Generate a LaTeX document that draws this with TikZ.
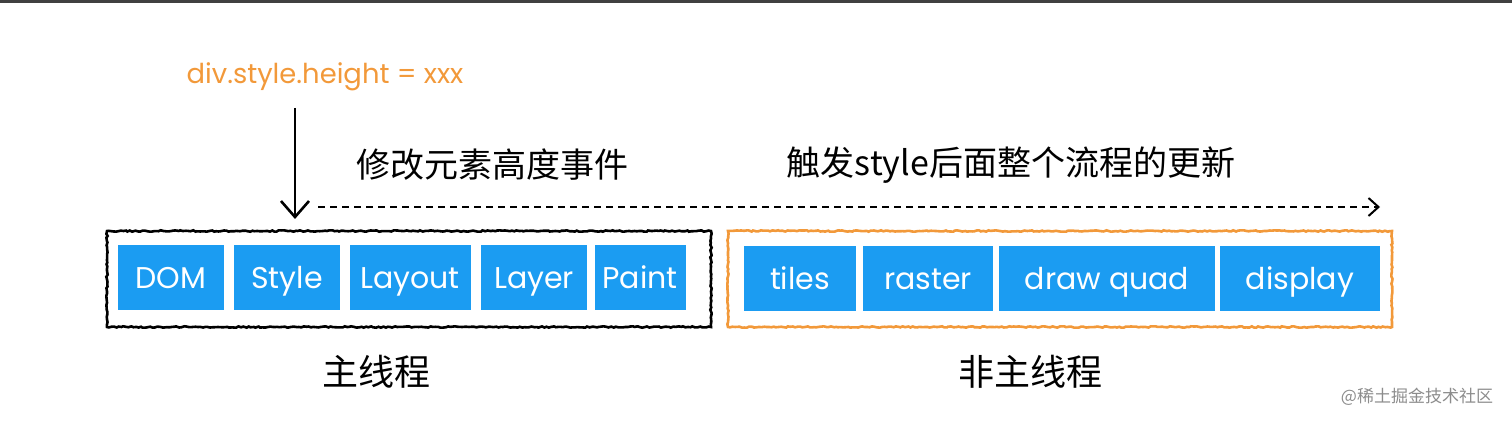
\documentclass[tikz,border=0pt]{standalone}
\usepackage{fontspec}
\setmainfont{Poppins}
\newfontfamily\cjk{Noto Sans CJK SC}
\usepackage{xcolor}
\usepackage{tikz}
\usetikzlibrary{arrows.meta, decorations.pathmorphing}

\definecolor{stageblue}{HTML}{1B9CF2}
\definecolor{codeorange}{HTML}{F2993A}

\tikzset{
    stage/.style={fill=stageblue, text=white, minimum height=65*0.5pt, inner sep=0pt, text height=10.5pt, text depth=0pt, font=\fontsize{15}{18}\selectfont},
    threadbox/.style={draw, line width=1.3pt, minimum height=96*0.5pt, decorate, decoration={random steps, segment length=1.2pt, amplitude=0.35pt}},
    cjklbl/.style={font=\cjk\fontsize{17}{20}\selectfont},
}

\begin{document}
\begin{tikzpicture}[x=0.5pt, y=-0.5pt]
    \useasboundingbox (0,0) rectangle (1512,422);
    \fill[black!75] (0,0) rectangle (1512,3);

    % thread frames
    \node[threadbox, minimum width=604*0.5pt] (main) at (409,279) {};
    \node[threadbox, draw=codeorange, minimum width=664*0.5pt] (other) at (1060,279) {};

    \foreach \n/\x/\w/\t in {dom/171/106/DOM, style/287/106/Style, layout/410/121/Layout, layer/534/106/Layer, paint/640/91/Paint} {
        \node[stage, minimum width=\w*0.5pt] (\n) at (\x,278) {\t};
    }
    \foreach \n/\x/\w/\t in {tiles/800/112/tiles, raster/928/130/raster, quad/1107/216/draw quad, disp/1300/160/display} {
        \node[stage, minimum width=\w*0.5pt] (\n) at (\x,279) {\t};
    }

    \node[text=codeorange, font=\fontsize{13.7}{16}\selectfont] (code) at (325,77) {div.style.height = xxx};
    \node[cjklbl] (evt) at (492,165) {修改元素高度事件};
    \node[cjklbl] (upd) at (1011,165) {触发style后面整个流程的更新};
    \node[cjklbl, font=\cjk\fontsize{18}{21}\selectfont] (mainlbl) at (376,372) {主线程};
    \node[cjklbl, font=\cjk\fontsize{18}{21}\selectfont] (otherlbl) at (1030,372) {非主线程};
    \node[text=black!45, font=\cjk\fontsize{8.5}{10}\selectfont] (wm) at (1417,397) {@稀土掘金技术社区};

    \coordinate (trig) at (295,108);
    \coordinate (hit) at (295,219);
    \coordinate (dstart) at (318,207);
    \coordinate (dend) at (1380,207);
    \draw[line width=1.2pt, -{Straight Barb[length=8pt, width=14pt, line width=1.3pt]}] (trig) -- (hit);
    \draw[line width=1pt, dash pattern=on 3.5pt off 2.5pt, -{Straight Barb[length=5pt, width=9pt, line width=1pt, sep=0pt]}] (dstart) -- (dend);
\end{tikzpicture}
\end{document}
